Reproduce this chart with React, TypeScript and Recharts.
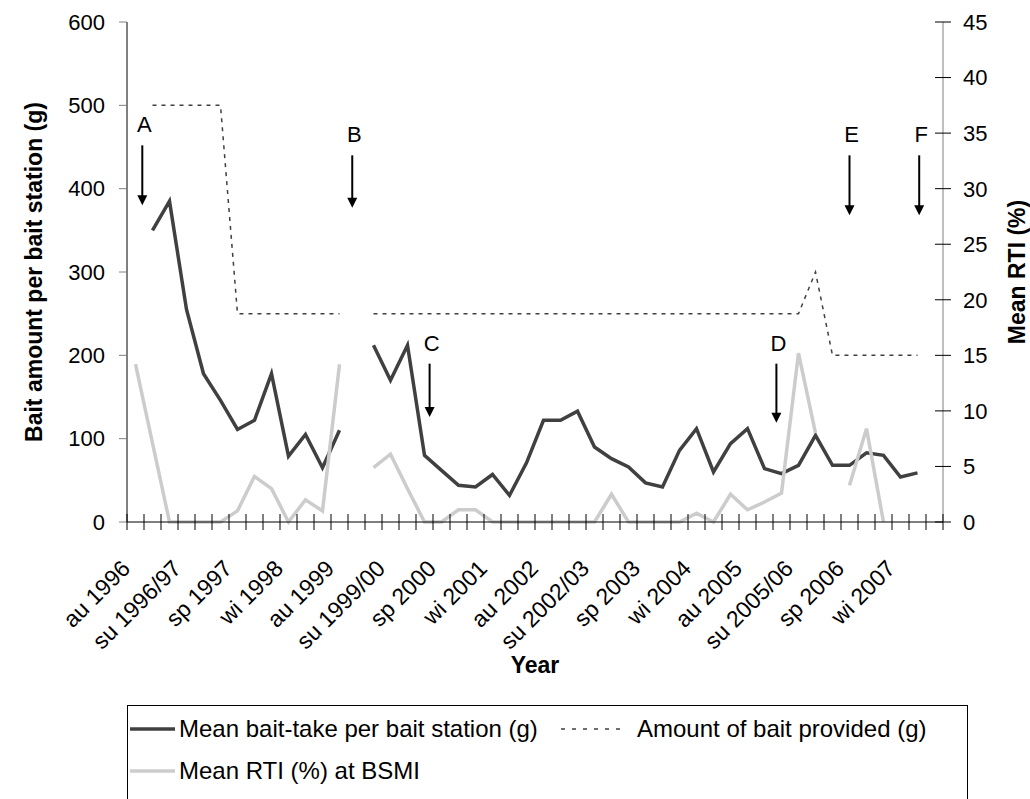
import React from "react";
import { LineChart, Line, XAxis, YAxis, Legend, ReferenceLine, Label } from "recharts";

// seasons, autumn 1996 to summer 2007/08 (southern hemisphere)
const seasons = [
  "au 1996", "wi 1996", "sp 1996", "su 1996/97",
  "au 1997", "wi 1997", "sp 1997", "su 1997/98",
  "au 1998", "wi 1998", "sp 1998", "su 1998/99",
  "au 1999", "wi 1999", "sp 1999", "su 1999/00",
  "au 2000", "wi 2000", "sp 2000", "su 2000/01",
  "au 2001", "wi 2001", "sp 2001", "su 2001/02",
  "au 2002", "wi 2002", "sp 2002", "su 2002/03",
  "au 2003", "wi 2003", "sp 2003", "su 2003/04",
  "au 2004", "wi 2004", "sp 2004", "su 2004/05",
  "au 2005", "wi 2005", "sp 2005", "su 2005/06",
  "au 2006", "wi 2006", "sp 2006", "su 2006/07",
  "au 2007", "wi 2007", "sp 2007", "su 2007/08",
];

const baitTake = [
  null, 350, 385, 255, 178, 146, 111, 122, 178, 79, 105, 65,
  110, null, 212, 170, 212, 80, 62, 44, 42, 57, 32, 71,
  122, 122, 133, 90, 76, 66, 47, 42, 86, 112, 60, 94,
  112, 64, 58, 68, 104, 68, 68, 83, 80, 54, 59, null,
];

const baitProvided = [
  null, 500, 500, 500, 500, 500, 250, 250, 250, 250, 250, 250,
  250, null, 250, 250, 250, 250, 250, 250, 250, 250, 250, 250,
  250, 250, 250, 250, 250, 250, 250, 250, 250, 250, 250, 250,
  250, 250, 250, 250, 300, 200, 200, 200, 200, 200, 200, null,
];

const meanRti = [
  14.2, 7.1, 0, 0, 0, 0, 1.0, 4.1, 3.0, 0, 2.0, 1.0,
  14.2, null, 4.9, 6.1, 3.0, 0, 0, 1.1, 1.1, 0, 0, 0,
  0, 0, 0, 0, 2.5, 0, 0, 0, 0, 0.8, 0, 2.5,
  1.1, 1.8, 2.6, 15.2, 8.0, null, 3.3, 8.4, 0, null, null, null,
];

const leftTicks = [0, 100, 200, 300, 400, 500, 600];
const rightTicks = [0, 5, 10, 15, 20, 25, 30, 35, 40, 45];

// event markers A-F (x in season units, y on the bait axis)
const markerLetters = ["A", "B", "C", "D", "E", "F"];
const markerX = [0.9, 13.25, 17.8, 38.2, 42.5, 46.6];
const markerTop = [452, 440, 190, 190, 440, 440];
const markerTip = [380, 377, 126, 119, 368, 368];

const FONT = '"Liberation Sans", Arial, sans-serif';
const N = seasons.length;
const PLOT_W = 816;
const HALF = PLOT_W / N / 2;

const data = seasons.map((s, i) => ({
  pos: i + 0.5,
  season: s,
  take: baitTake[i],
  provided: baitProvided[i],
  rti: meanRti[i],
}));
const boundaries = Array.from({ length: N + 1 }, (_, i) => i);

const SeasonTick = (props: any) => {
  const { x, y, payload } = props;
  const i = payload.value;
  const show = i % 3 === 0 && i < N;
  const tx = x + HALF - 4;
  const ty = y + 48;
  return (
    <g>
      <line x1={x} x2={x} y1={y - 8} y2={y + 8} stroke="#000" />
      {show && (
        <text
          x={tx}
          y={ty}
          transform={`rotate(-45, ${tx}, ${ty})`}
          textAnchor="end"
          fontSize={23}
          fill="#000"
          fontFamily={FONT}
        >
          {seasons[i]}
        </text>
      )}
    </g>
  );
};

const RtiTick = (props: any) => {
  const { x, y, payload } = props;
  return (
    <g>
      <line x1={x - 8} x2={x + 8} y1={y} y2={y} stroke="#000" />
      <text x={x + 20} y={y} dy="0.36em" fontSize={22} fill="#000" fontFamily={FONT}>
        {payload.value}
      </text>
    </g>
  );
};

const makeArrow = (letter: string) => (props: any) => {
  const { x1, y1, y2 } = props;
  const top = Math.min(y1, y2);
  const tip = Math.max(y1, y2);
  return (
    <g>
      <line x1={x1} x2={x1} y1={top} y2={tip - 9} stroke="#000" strokeWidth={2} />
      <polygon points={`${x1 - 5},${tip - 10} ${x1 + 5},${tip - 10} ${x1},${tip}`} fill="#000" />
      <text x={x1 + 2} y={top - 13} textAnchor="middle" fontSize={22} fill="#000" fontFamily={FONT}>
        {letter}
      </text>
    </g>
  );
};

const Sample = ({ color, width, dash, len = 45 }: any) => (
  <svg width={len} height={10} style={{ display: "block" }}>
    <line x1={0} x2={len} y1={5} y2={5} stroke={color} strokeWidth={width} strokeDasharray={dash} />
  </svg>
);

const LegendBox = () => (
  <div
    style={{
      width: 841,
      height: 100,
      border: "1px solid #000",
      boxSizing: "border-box",
      position: "relative",
      fontFamily: FONT,
      fontSize: 24,
      color: "#000",
      background: "#fff",
    }}
  >
    <div style={{ position: "absolute", left: 2, top: 18 }}>
      <Sample color="#404040" width={3.5} />
    </div>
    <div style={{ position: "absolute", left: 51, top: 8, lineHeight: "30px" }}>
      Mean bait-take per bait station (g)
    </div>
    <div style={{ position: "absolute", left: 433, top: 18 }}>
      <Sample color="#404040" width={1.5} dash="4 7" len={66} />
    </div>
    <div style={{ position: "absolute", left: 509, top: 8, lineHeight: "30px" }}>
      Amount of bait provided (g)
    </div>
    <div style={{ position: "absolute", left: 2, top: 60 }}>
      <Sample color="#cccccc" width={3.5} />
    </div>
    <div style={{ position: "absolute", left: 51, top: 50, lineHeight: "30px" }}>
      Mean RTI (%) at BSMI
    </div>
  </div>
);

export default function App() {
  return (
    <div style={{ position: "absolute", left: 0, top: 0, width: 1030, height: 799, overflow: "hidden", background: "#fff" }}>
      <LineChart width={1030} height={799} data={data} margin={{ top: 22, right: 0, left: 0, bottom: 117 }}>
        <XAxis
          dataKey="pos"
          type="number"
          domain={[0, N]}
          ticks={boundaries}
          interval={0}
          tickSize={0}
          tickMargin={0}
          tickLine={false}
          tick={<SeasonTick />}
          axisLine={{ stroke: "#000" }}
          height={160}
        >
          <Label value="Year" position="insideBottom" offset={9} fontSize={23} fontWeight="bold" fill="#000" fontFamily={FONT} />
        </XAxis>
        <YAxis
          yAxisId="left"
          width={127}
          domain={[0, 600]}
          ticks={leftTicks}
          interval={0}
          tickSize={8}
          tickMargin={14}
          axisLine={{ stroke: "#000" }}
          tickLine={{ stroke: "#808080" }}
          tick={{ fontSize: 22, fill: "#000", fontFamily: FONT }}
        >
          <Label
            value="Bait amount per bait station (g)"
            position="center"
            angle={-90}
            dx={-30}
            fontSize={23}
            fontWeight="bold"
            fill="#000"
            fontFamily={FONT}
          />
        </YAxis>
        <YAxis
          yAxisId="right"
          orientation="right"
          width={87}
          domain={[0, 45]}
          ticks={rightTicks}
          interval={0}
          tickSize={0}
          tickMargin={0}
          tickLine={false}
          axisLine={{ stroke: "#808080" }}
          tick={<RtiTick />}
        >
          <Label
            value="Mean RTI (%)"
            position="center"
            angle={-90}
            dx={30}
            fontSize={23}
            fontWeight="bold"
            fill="#000"
            fontFamily={FONT}
          />
        </YAxis>
        <Legend
          layout="horizontal"
          verticalAlign="middle"
          align="center"
          wrapperStyle={{ position: "absolute", left: 127, top: 705, width: 841 }}
          content={<LegendBox />}
        />
        <Line
          yAxisId="left"
          dataKey="provided"
          stroke="#404040"
          strokeWidth={1.5}
          strokeDasharray="4 5"
          dot={false}
          activeDot={false}
          isAnimationActive={false}
        />
        <Line
          yAxisId="left"
          dataKey="take"
          stroke="#404040"
          strokeWidth={3.5}
          dot={false}
          activeDot={false}
          isAnimationActive={false}
        />
        <Line
          yAxisId="right"
          dataKey="rti"
          stroke="#cccccc"
          strokeWidth={3.5}
          dot={false}
          activeDot={false}
          isAnimationActive={false}
        />
        {markerLetters.map((letter, k) => (
          <ReferenceLine
            key={letter}
            yAxisId="left"
            segment={[
              { x: markerX[k], y: markerTop[k] },
              { x: markerX[k], y: markerTip[k] },
            ]}
            shape={makeArrow(letter)}
          />
        ))}
      </LineChart>
    </div>
  );
}
